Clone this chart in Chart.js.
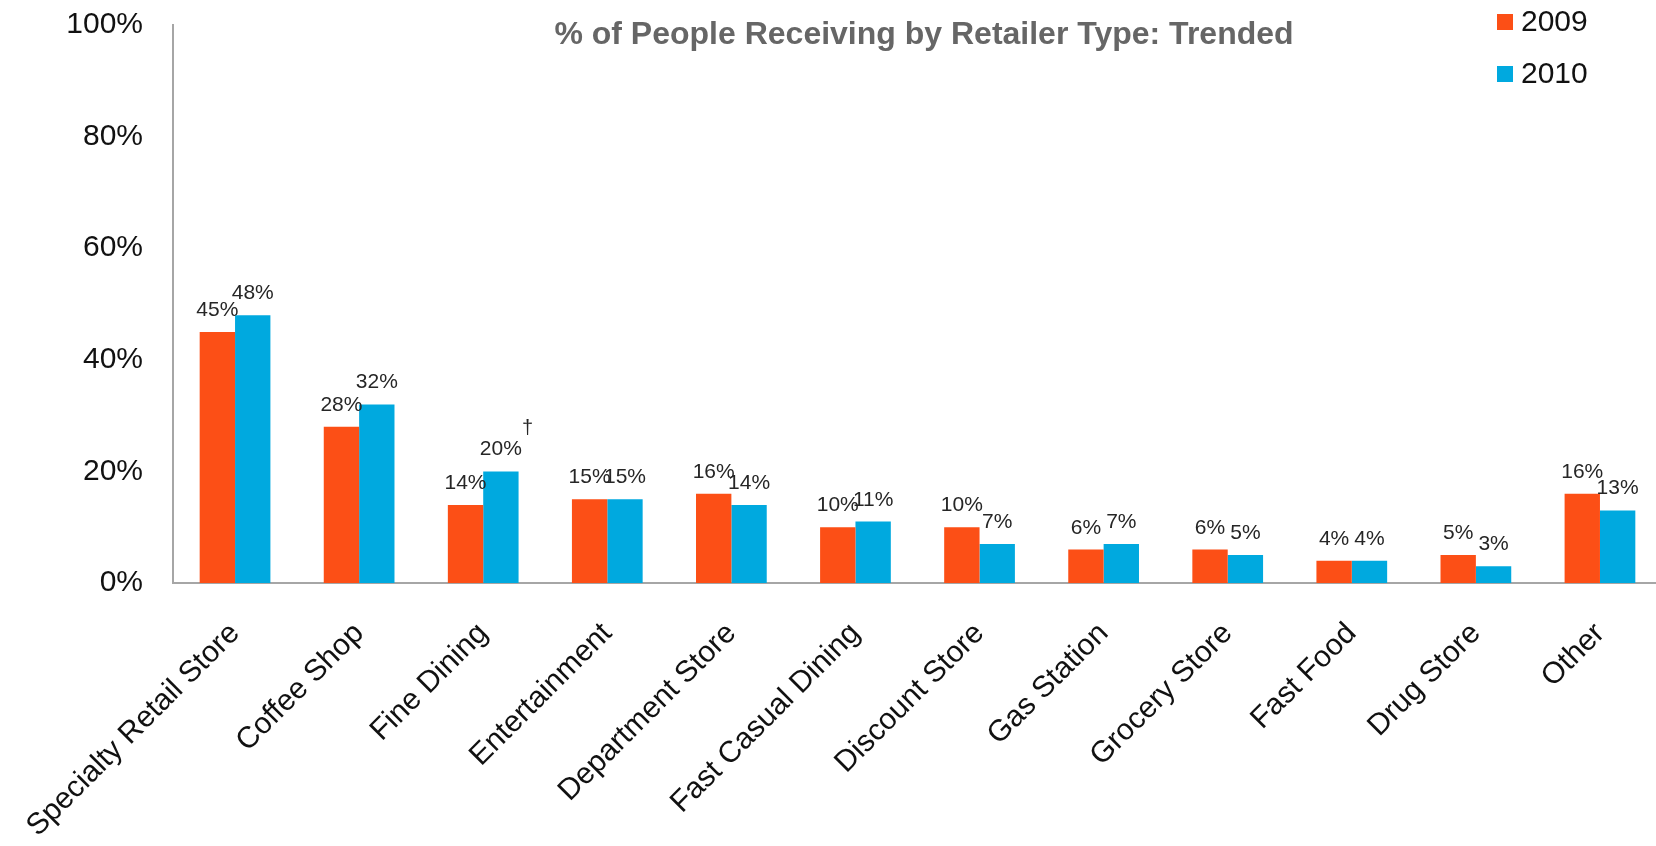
<!DOCTYPE html>
<html>
<head>
<meta charset="utf-8">
<title>% of People Receiving by Retailer Type: Trended</title>
<script src="https://cdn.jsdelivr.net/npm/chart.js@4"></script>
<style>
  html, body { margin: 0; padding: 0; background: #fff; overflow: hidden; }
  #wrap { width: 1656px; height: 846px; overflow: hidden; }
</style>
</head>
<body>
<div id="wrap"><canvas id="myChart" width="1680" height="846"></canvas></div>
<script>

const chartTitle = '% of People Receiving by Retailer Type: Trended';

const retailers = ['Specialty Retail Store', 'Coffee Shop', 'Fine Dining', 'Entertainment',
  'Department Store', 'Fast Casual Dining', 'Discount Store', 'Gas Station',
  'Grocery Store', 'Fast Food', 'Drug Store', 'Other'];

const years = ['2009', '2010'];
const pct2009 = [45, 28, 14, 15, 16, 10, 10, 6, 6, 4, 5, 16];
const pct2010 = [48, 32, 20, 15, 14, 11, 7, 7, 5, 4, 3, 13];

const yTicks = [0, 20, 40, 60, 80, 100];

// 2010 values that carry a dagger footnote
const marked2010 = ['Fine Dining'];

const FONT = "'Liberation Sans', Arial, sans-serif";

// value labels above each bar (+ the dagger)
const valueLabels = {
  id: 'valueLabels',
  afterDatasetsDraw(chart) {
    const c = chart.ctx;
    c.save();
    c.font = '21px ' + FONT;
    c.fillStyle = '#262626';
    c.textAlign = 'center';
    c.textBaseline = 'alphabetic';
    chart.data.datasets.forEach((ds, i) => {
      chart.getDatasetMeta(i).data.forEach((bar, j) => {
        const txt = ds.data[j] + '%';
        const y = bar.y - 16;
        c.fillText(txt, bar.x, y);
        if (i === 1 && marked2010.includes(chart.data.labels[j])) {
          const w = c.measureText(txt).width;
          c.save();
          c.font = '20px ' + FONT;
          c.textAlign = 'left';
          c.fillText('\u2020', bar.x + w / 2, y - 21);
          c.restore();
        }
      });
    });
    c.restore();
  }
};

// title inside the plot + legend in the top right corner
const headerAndKey = {
  id: 'headerAndKey',
  afterDraw(chart) {
    const c = chart.ctx;
    c.save();
    c.font = 'bold 32px ' + FONT;
    c.fillStyle = '#666666';
    c.textAlign = 'center';
    c.textBaseline = 'alphabetic';
    c.fillText(chartTitle, 924, 44);

    c.font = '30px ' + FONT;
    c.textAlign = 'left';
    c.textBaseline = 'middle';
    chart.data.datasets.forEach((ds, i) => {
      const y = 22 + i * 52;
      c.fillStyle = ds.backgroundColor;
      c.fillRect(1497, y - 8, 16, 16);
      c.fillStyle = '#111111';
      c.fillText(ds.label, 1521, y + 1);
    });
    c.restore();
  }
};

let ctx = document.getElementById('myChart');

const myChart = new Chart(ctx, {
  type: 'bar',
  data: {
    labels: retailers,
    datasets: [{
      label: years[0],
      data: pct2009,
      backgroundColor: '#FC4F16',
      borderWidth: 0,
      categoryPercentage: 0.57,
      barPercentage: 1.0
    }, {
      label: years[1],
      data: pct2010,
      backgroundColor: '#00A9DF',
      borderWidth: 0,
      categoryPercentage: 0.57,
      barPercentage: 1.0
    }]
  },
  options: {
    responsive: false,
    animation: false,
    devicePixelRatio: 1,
    layout: { padding: { top: 25, right: 18, left: 0, bottom: 0 } },
    plugins: {
      legend: { display: false },
      title: { display: false },
      tooltip: { enabled: false }
    },
    scales: {
      x: {
        grid: { display: false, drawTicks: false },
        border: { color: '#a6a6a6', width: 2 },
        ticks: {
          font: { size: 30, family: FONT },
          color: '#111111',
          minRotation: 45,
          maxRotation: 45,
          autoSkip: false,
          padding: 33
        },
        afterFit(scale) {
          scale.height = 263;
          scale.paddingLeft = 0;
          scale.paddingRight = 0;
        }
      },
      y: {
        min: 0,
        max: 100,
        grid: { display: false, drawTicks: false },
        border: { color: '#a6a6a6', width: 2 },
        ticks: {
          font: { size: 30, family: FONT },
          color: '#111111',
          padding: 30,
          callback: v => v + '%'
        },
        afterBuildTicks(scale) { scale.ticks = yTicks.map(v => ({ value: v })); },
        afterFit(scale) {
          scale.width = 173;
          scale.paddingTop = 0;
          scale.paddingBottom = 0;
        }
      }
    }
  },
  plugins: [valueLabels, headerAndKey]
});
</script>
</body>
</html>
